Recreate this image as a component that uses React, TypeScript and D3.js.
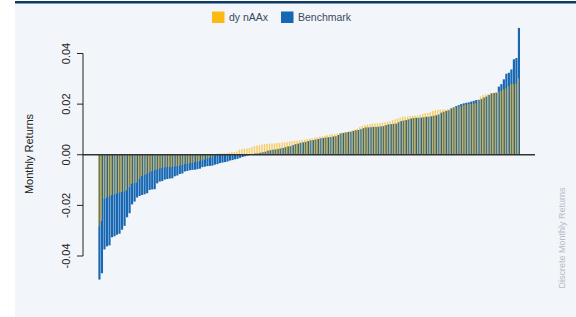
import React from 'react';
import * as d3 from 'd3';

// monthly returns, each series sorted ascending
const benchmark: number[] = [
  -0.0493, -0.0468, -0.0374, -0.0362, -0.0358, -0.0326, -0.0322, -0.0316, -0.0312, -0.0296,
  -0.0281, -0.0247, -0.0231, -0.0196, -0.0185, -0.0169, -0.0163, -0.0159, -0.0156, -0.0152,
  -0.0139, -0.0137, -0.0136, -0.0113, -0.0106, -0.0104, -0.0098, -0.0096, -0.0094, -0.0093,
  -0.0085, -0.0082, -0.0076, -0.0074, -0.0066, -0.0064, -0.0061, -0.0060, -0.0059, -0.0057,
  -0.0055, -0.0049, -0.0047, -0.0045, -0.0044, -0.0043, -0.0039, -0.0037, -0.0033, -0.0031,
  -0.0029, -0.0027, -0.0023, -0.0021, -0.0018, -0.0016, -0.0012, -0.0009, -0.0006, -0.0003,
  0.0002, 0.0003, 0.0005, 0.0006, 0.0008, 0.0010, 0.0012, 0.0016, 0.0018, 0.0020,
  0.0021, 0.0023, 0.0025, 0.0027, 0.0030, 0.0033, 0.0034, 0.0038, 0.0042, 0.0044,
  0.0047, 0.0049, 0.0051, 0.0054, 0.0057, 0.0058, 0.0060, 0.0062, 0.0065, 0.0066,
  0.0068, 0.0069, 0.0070, 0.0072, 0.0073, 0.0078, 0.0084, 0.0086, 0.0088, 0.0090,
  0.0091, 0.0094, 0.0097, 0.0098, 0.0101, 0.0105, 0.0108, 0.0108, 0.0109, 0.0110,
  0.0110, 0.0111, 0.0112, 0.0113, 0.0117, 0.0120, 0.0121, 0.0122, 0.0123, 0.0128,
  0.0133, 0.0135, 0.0137, 0.0140, 0.0143, 0.0145, 0.0146, 0.0146, 0.0147, 0.0148,
  0.0150, 0.0150, 0.0152, 0.0154, 0.0156, 0.0159, 0.0166, 0.0170, 0.0173, 0.0176,
  0.0183, 0.0187, 0.0192, 0.0196, 0.0200, 0.0203, 0.0205, 0.0207, 0.0210, 0.0213,
  0.0216, 0.0217, 0.0220, 0.0226, 0.0230, 0.0236, 0.0242, 0.0244, 0.0245, 0.0269,
  0.0279, 0.0298, 0.0320, 0.0324, 0.0337, 0.0377, 0.0382, 0.0501,
];

const dynAAx: number[] = [
  -0.0283, -0.0262, -0.0175, -0.0170, -0.0165, -0.0160, -0.0157, -0.0154, -0.0150, -0.0148,
  -0.0145, -0.0141, -0.0128, -0.0115, -0.0112, -0.0110, -0.0095, -0.0084, -0.0080, -0.0077,
  -0.0070, -0.0065, -0.0062, -0.0059, -0.0055, -0.0052, -0.0050, -0.0049, -0.0049, -0.0048,
  -0.0047, -0.0045, -0.0043, -0.0041, -0.0038, -0.0036, -0.0034, -0.0032, -0.0030, -0.0028,
  -0.0025, -0.0023, -0.0019, -0.0015, -0.0012, -0.0010, -0.0004, 0.0004, 0.0005, 0.0005,
  0.0006, 0.0007, 0.0008, 0.0010, 0.0011, 0.0013, 0.0020, 0.0023, 0.0024, 0.0025,
  0.0026, 0.0030, 0.0034, 0.0036, 0.0038, 0.0040, 0.0042, 0.0043, 0.0044, 0.0044,
  0.0045, 0.0046, 0.0047, 0.0048, 0.0049, 0.0050, 0.0052, 0.0054, 0.0055, 0.0056,
  0.0057, 0.0058, 0.0060, 0.0062, 0.0064, 0.0065, 0.0067, 0.0069, 0.0071, 0.0073,
  0.0075, 0.0077, 0.0080, 0.0081, 0.0082, 0.0084, 0.0086, 0.0088, 0.0089, 0.0090,
  0.0093, 0.0097, 0.0099, 0.0104, 0.0110, 0.0114, 0.0117, 0.0119, 0.0121, 0.0123,
  0.0123, 0.0124, 0.0125, 0.0127, 0.0128, 0.0130, 0.0132, 0.0137, 0.0140, 0.0143,
  0.0147, 0.0150, 0.0150, 0.0151, 0.0153, 0.0154, 0.0154, 0.0155, 0.0158, 0.0161,
  0.0164, 0.0165, 0.0168, 0.0173, 0.0176, 0.0177, 0.0178, 0.0179, 0.0179, 0.0180,
  0.0183, 0.0185, 0.0188, 0.0191, 0.0192, 0.0195, 0.0198, 0.0200, 0.0201, 0.0202,
  0.0203, 0.0215, 0.0230, 0.0236, 0.0238, 0.0240, 0.0242, 0.0244, 0.0247, 0.0249,
  0.0252, 0.0258, 0.0262, 0.0270, 0.0279, 0.0279, 0.0281, 0.0302,
];

const yTicks = [-0.04, -0.02, 0, 0.02, 0.04];
const seriesNames = ['dy nAAx', 'Benchmark'];

const GOLD = '#fdb913';
const BLUE = '#1767b3';
const FONT = 'Liberation Sans, Arial, sans-serif';

const App: React.FC = () => {
  const width = 576;
  const height = 317;

  const x = d3.scaleBand<number>()
    .domain(d3.range(benchmark.length))
    .range([98, 520])
    .paddingInner(0);

  const y = d3.scaleLinear().domain([-0.04, 0.04]).range([256, 53.5]);
  const step = x.step();
  const y0 = y(0);

  return (
    <svg width={width} height={height} style={{ position: 'absolute', left: 0, top: 0 }} fontFamily={FONT}>
      <rect x={0} y={0} width={width} height={height} fill="#ffffff" />
      <rect x={15} y={3} width={width - 15} height={height - 3} fill="#f2f5f9" />
      <rect x={15} y={1} width={width - 15} height={2.5} fill="#0d3a66" />

      {/* legend */}
      <rect x={212} y={11.5} width={12.5} height={11.5} fill={GOLD} />
      <text x={229} y={21} fontSize={10.5} fill="#3b4a5c">{seriesNames[0]}</text>
      <rect x={281} y={11.5} width={12.5} height={11.5} fill={BLUE} />
      <text x={298} y={21} fontSize={10.5} fill="#3b4a5c">{seriesNames[1]}</text>

      {/* benchmark bars */}
      <g fill={BLUE}>
        {benchmark.map((v, i) => (
          <rect key={i} x={x(i)! + step * 0.15} width={step * 0.85}
            y={Math.min(y(v), y0)} height={Math.abs(y(v) - y0)} />
        ))}
      </g>
      {/* dynAAx bars */}
      <g fill={GOLD} opacity={0.68}>
        {dynAAx.map((v, i) => (
          <rect key={i} x={x(i)!} width={step * 0.55}
            y={Math.min(y(v), y0)} height={Math.abs(y(v) - y0)} />
        ))}
      </g>

      {/* zero line */}
      <line x1={83} x2={535} y1={y0} y2={y0} stroke="#333" strokeWidth={1.3} />

      {/* y axis */}
      <line x1={83} x2={83} y1={y(-0.04)} y2={y(0.04)} stroke="#222" strokeWidth={1} />
      {yTicks.map((t) => (
        <g key={t}>
          <line x1={77} x2={83} y1={y(t)} y2={y(t)} stroke="#222" strokeWidth={1} />
          <text transform={`translate(70,${y(t)}) rotate(-90)`} textAnchor="middle"
            fontSize={11} fill="#222">{t.toFixed(2)}</text>
        </g>
      ))}
      <text transform={`translate(33,154) rotate(-90)`} textAnchor="middle" fontSize={11} fill="#222">
        Monthly Returns
      </text>

      <text transform={`translate(565,238) rotate(-90)`} textAnchor="middle" fontSize={9} fill="#b4bcc6">
        Discrete Monthly Returns
      </text>
    </svg>
  );
};

export default App;
